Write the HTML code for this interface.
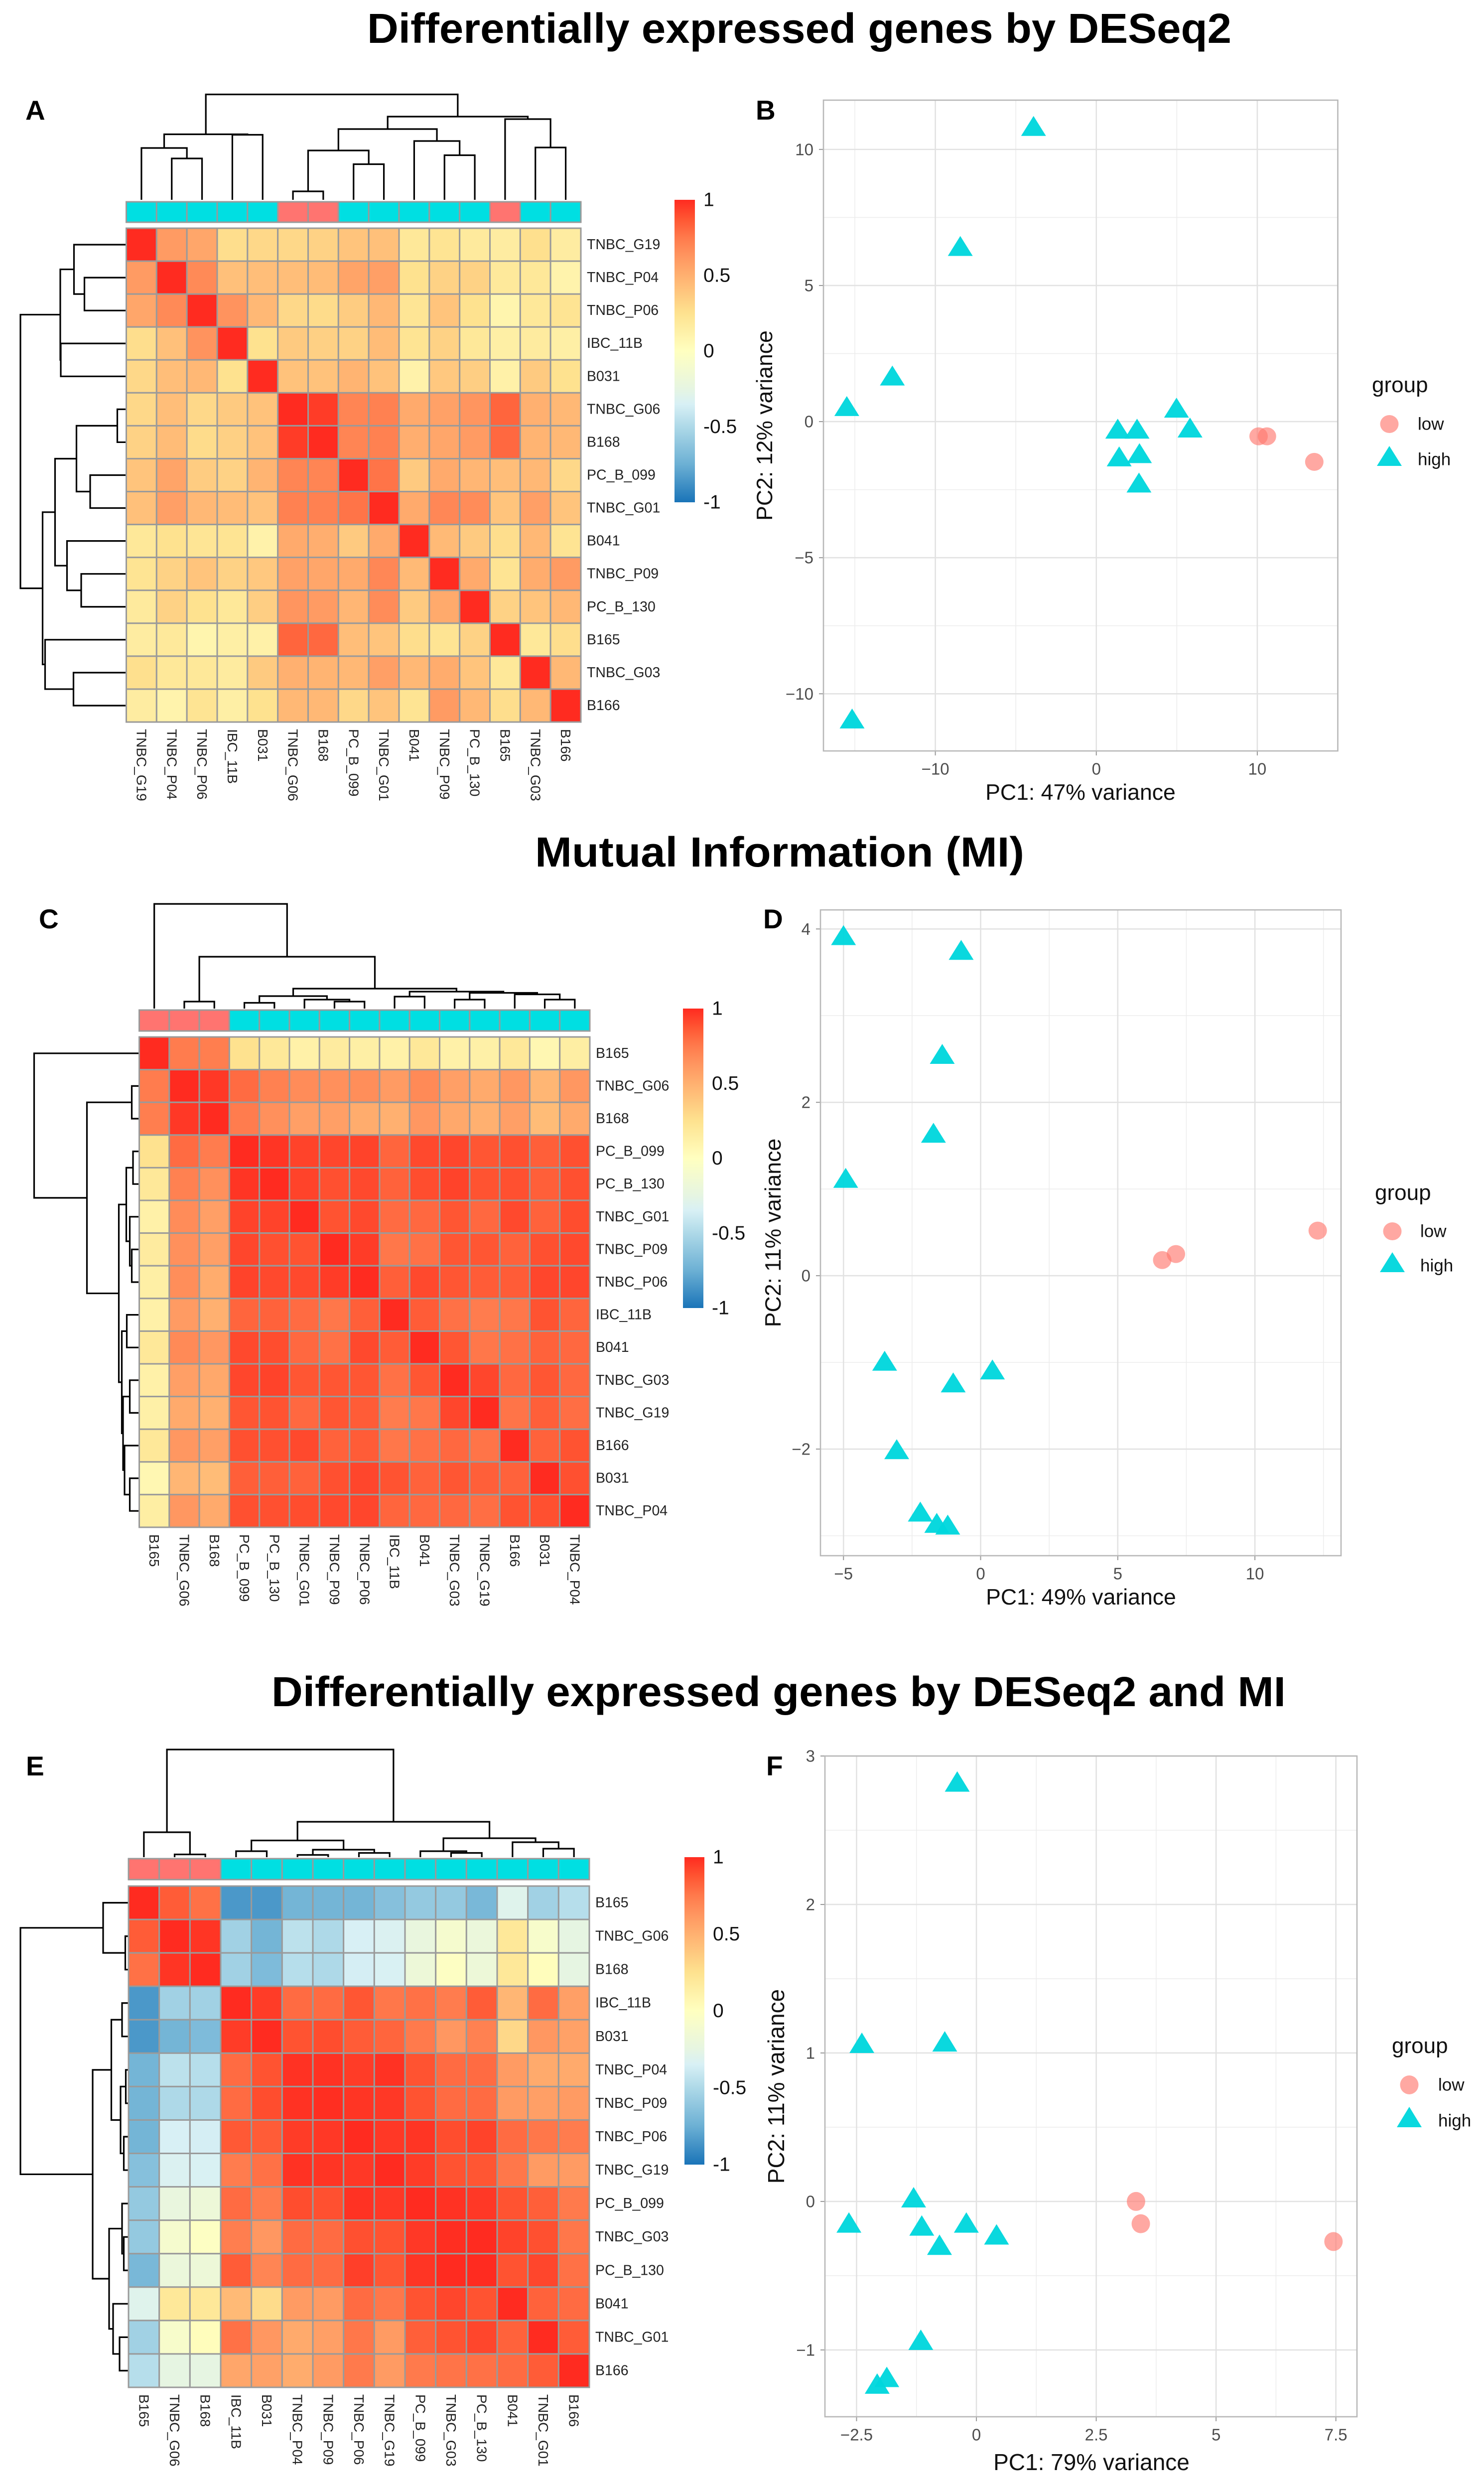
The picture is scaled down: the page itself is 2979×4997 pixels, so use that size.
<!DOCTYPE html>
<html>
<head>
<meta charset="utf-8">
<title>Differentially expressed genes figure</title>
<style>
html,body{margin:0;padding:0;background:#fff;}
svg{display:block;font-family:"Liberation Sans",Arial,sans-serif;}
</style>
</head>
<body>
<svg id="figure" xmlns="http://www.w3.org/2000/svg" width="2979" height="4997" viewBox="0 0 2979 4997">
<rect x="0" y="0" width="2979" height="4997" fill="#fff"/>
<text x="737" y="86" font-size="84" font-weight="bold" textLength="1735" lengthAdjust="spacingAndGlyphs" fill="#000">Differentially expressed genes by DESeq2</text>
<text x="1074" y="1739" font-size="84" font-weight="bold" textLength="982" lengthAdjust="spacingAndGlyphs" fill="#000">Mutual Information (MI)</text>
<text x="545" y="3424" font-size="84" font-weight="bold" textLength="2036" lengthAdjust="spacingAndGlyphs" fill="#000">Differentially expressed genes by DESeq2 and MI</text>
<text x="51" y="240" font-size="55" font-weight="bold">A</text>
<text x="1517" y="240" font-size="55" font-weight="bold">B</text>
<text x="78" y="1863" font-size="55" font-weight="bold">C</text>
<text x="1532" y="1863" font-size="55" font-weight="bold">D</text>
<text x="52" y="3563" font-size="55" font-weight="bold">E</text>
<text x="1538" y="3563" font-size="55" font-weight="bold">F</text>
</svg>
<script>
/* ---------- colour scale ---------- */
const colorDomain = [-1,-0.75,-0.5,-0.35,-0.25,0,0.25,0.5,0.625,0.75,0.875,1];
const colorRange = ['#1a74b8','#6cb0d4','#aed9e8','#d8f0f5','#e6f5e2','#ffffc0','#fee28f','#ffb070','#ff9660','#ff7a4c','#ff5532','#ff2b20'];
const colorbarTicks = [1,0.5,0,-0.5,-1];

/* ---------- heatmap A ---------- */
const labelsA = ['TNBC_G19','TNBC_P04','TNBC_P06','IBC_11B','B031','TNBC_G06','B168','PC_B_099','TNBC_G01','B041','TNBC_P09','PC_B_130','B165','TNBC_G03','B166'];
const lowGroupA = ['TNBC_G06','B168','B165'];
const treeA = [[[0,[1,2,83],104],[3,4,130.5],131.5],[[[[[5,6,17],[7,8,71.5],99],[9,[10,11,89.5],118],142]],[12,[13,14,105],162],167],211.5];
const matrixA = [
[1,.6,.55,.27,.3,.3,.33,.4,.42,.2,.23,.18,.16,.26,.16],
[.6,1,.68,.42,.43,.43,.44,.56,.58,.25,.33,.33,.19,.2,.1],
[.55,.68,1,.64,.46,.3,.28,.36,.46,.22,.4,.25,.09,.2,.23],
[.27,.42,.64,1,.25,.37,.34,.33,.44,.23,.33,.2,.14,.17,.14],
[.3,.43,.46,.25,1,.41,.41,.48,.41,.11,.38,.35,.12,.37,.25],
[.3,.43,.3,.37,.41,1,.95,.7,.72,.53,.57,.63,.82,.5,.46],
[.33,.44,.28,.34,.41,.95,1,.7,.72,.51,.55,.6,.81,.48,.46],
[.4,.56,.36,.33,.48,.7,.7,1,.77,.37,.53,.47,.43,.46,.3],
[.42,.58,.46,.44,.41,.72,.72,.77,1,.53,.69,.67,.4,.58,.4],
[.2,.25,.22,.23,.11,.53,.51,.37,.53,1,.45,.37,.27,.46,.23],
[.23,.33,.4,.33,.38,.57,.55,.53,.69,.45,1,.53,.23,.52,.6],
[.18,.33,.25,.2,.35,.63,.6,.47,.67,.37,.53,1,.33,.4,.46],
[.16,.19,.09,.14,.12,.82,.81,.43,.4,.27,.23,.33,1,.2,.27],
[.26,.2,.2,.17,.37,.5,.48,.46,.58,.46,.52,.4,.2,1,.46],
[.16,.1,.23,.14,.25,.46,.46,.3,.4,.23,.6,.46,.27,.46,1]
];

/* ---------- heatmap C ---------- */
const labelsC = ['B165','TNBC_G06','B168','PC_B_099','PC_B_130','TNBC_G01','TNBC_P09','TNBC_P06','IBC_11B','B041','TNBC_G03','TNBC_G19','B166','B031','TNBC_P04'];
const lowGroupC = ['B165','TNBC_G06','B168'];
const treeC = [0,[[1,2,14],[[[3,4,11.5],[5,[6,7,14],18],25],[[8,9,24],[[10,11,18],[12,[13,14,18],28.5],31.5],34],40],104],210];
const matrixC = [
[1,.74,.73,.25,.2,.12,.17,.14,.12,.2,.12,.13,.2,.07,.15],
[.74,1,.96,.8,.72,.67,.65,.66,.6,.68,.58,.53,.62,.47,.62],
[.73,.96,1,.74,.65,.58,.58,.52,.5,.62,.54,.5,.58,.44,.53],
[.25,.8,.74,1,.97,.93,.92,.93,.82,.91,.92,.87,.89,.84,.89],
[.2,.72,.65,.97,1,.93,.89,.91,.83,.9,.93,.88,.89,.84,.89],
[.12,.67,.58,.93,.93,1,.88,.91,.8,.81,.87,.81,.91,.83,.9],
[.17,.65,.58,.92,.89,.88,1,.95,.76,.78,.87,.87,.83,.89,.91],
[.14,.66,.52,.93,.91,.91,.95,1,.84,.91,.87,.85,.85,.92,.92],
[.12,.6,.5,.82,.83,.8,.76,.84,1,.85,.78,.74,.76,.88,.82],
[.2,.68,.62,.91,.9,.81,.78,.91,.85,1,.87,.76,.78,.83,.81],
[.12,.58,.54,.92,.93,.87,.87,.87,.78,.87,1,.92,.81,.87,.81],
[.13,.53,.5,.87,.88,.81,.87,.85,.74,.76,.92,1,.77,.84,.79],
[.2,.62,.58,.89,.89,.91,.83,.85,.76,.78,.81,.77,1,.83,.88],
[.07,.47,.44,.84,.84,.83,.89,.92,.88,.83,.87,.84,.83,1,.89],
[.15,.62,.53,.89,.89,.9,.91,.92,.82,.81,.81,.79,.88,.89,1]
];

/* ---------- heatmap E ---------- */
const labelsE = ['B165','TNBC_G06','B168','IBC_11B','B031','TNBC_P04','TNBC_P09','TNBC_P06','TNBC_G19','PC_B_099','TNBC_G03','PC_B_130','B041','TNBC_G01','B166'];
const lowGroupE = ['B165','TNBC_G06','B168'];
const treeE = [[0,[1,2,5.5],50],[[[3,4,12],[[5,6,4.5],[7,8,8.5],15],33.5],[[9,[10,11,8.5],12],[12,[13,14,17],30],38],71],216];
const matrixE = [
[1,.85,.78,-.85,-.85,-.72,-.72,-.72,-.65,-.6,-.6,-.7,-.3,-.55,-.47],
[.85,1,.97,-.55,-.72,-.45,-.5,-.35,-.33,-.22,-.1,-.2,.2,-.08,-.25],
[.78,.97,1,-.55,-.68,-.47,-.5,-.36,-.34,-.18,-.02,-.18,.2,.02,-.25],
[-.85,-.55,-.55,1,.95,.8,.8,.87,.76,.78,.74,.85,.47,.8,.58],
[-.85,-.72,-.68,.95,1,.88,.9,.85,.82,.75,.62,.72,.3,.62,.57],
[-.72,-.45,-.47,.8,.88,.98,.98,.95,.98,.88,.8,.8,.6,.53,.53],
[-.72,-.5,-.5,.8,.9,.98,.99,.97,.96,.88,.8,.8,.6,.58,.6],
[-.72,-.35,-.36,.86,.85,.95,.96,1,.96,.97,.9,.93,.8,.76,.74],
[-.65,-.33,-.34,.74,.78,.98,.97,.96,1,.95,.88,.87,.76,.6,.6],
[-.6,-.22,-.18,.8,.74,.9,.89,.98,.96,1,.98,.96,.88,.84,.75],
[-.6,-.1,-.02,.73,.62,.8,.8,.89,.88,.96,.99,1,.93,.89,.76],
[-.7,-.2,-.18,.85,.7,.8,.8,.94,.87,.97,1,1,.88,.92,.78],
[-.3,.2,.2,.45,.28,.6,.6,.8,.76,.88,.92,.88,1,.83,.8],
[-.55,-.08,.02,.78,.62,.53,.58,.76,.6,.84,.88,.92,.83,1,.85],
[-.47,-.25,-.25,.55,.57,.52,.6,.75,.6,.75,.77,.78,.8,.85,1]
];

/* ---------- PCA B ---------- */
const highXB = [-3.9,-8.45,-12.67,-15.5,-15.17,1.33,2.53,4.98,5.82,1.42,2.68,2.65];
const highYB = [10.77,6.36,1.6,.48,-11.0,-.35,-.35,.42,-.31,-1.37,-1.25,-2.33];
const lowXB = [10.08,10.6,13.54];
const lowYB = [-.54,-.54,-1.48];
const xTicksB = [-10,0,10];
const yTicksB = [-10,-5,0,5,10];
const xMinorB = [-15,-5,5];
const yMinorB = [-7.5,-2.5,2.5,7.5];

/* ---------- PCA D ---------- */
const highXD = [-5.0,-.71,-1.4,-1.72,-4.92,-3.5,-1.0,.43,-3.06,-2.2,-1.6,-1.2];
const highYD = [3.9,3.73,2.53,1.62,1.1,-1.01,-1.26,-1.11,-2.03,-2.75,-2.88,-2.9];
const lowXD = [6.62,7.12,12.29];
const lowYD = [.18,.25,.52];
const xTicksD = [-5,0,5,10];
const yTicksD = [-2,0,2,4];
const xMinorD = [-2.5,2.5,7.5,12.5];
const yMinorD = [-3,-1,1,3];

/* ---------- PCA F ---------- */
const highXF = [-.4,-2.39,-.66,-1.31,-2.66,-1.14,-.21,.42,-.77,-1.16,-1.87,-2.07];
const highYF = [2.81,1.05,1.06,.01,-.16,-.18,-.16,-.24,-.31,-.95,-1.2,-1.245];
const lowXF = [3.33,3.43,7.45];
const lowYF = [0,-.15,-.27];
const xTicksF = [-2.5,0,2.5,5,7.5];
const yTicksF = [-1,0,1,2,3];
const xMinorF = [-1.25,1.25,3.75,6.25];
const yMinorF = [-.5,.5,1.5,2.5];

const NS = 'http://www.w3.org/2000/svg';
const root = document.getElementById('figure');

function mk(tag, parent, attrs, txt){
  const e = document.createElementNS(NS, tag);
  for (const k in attrs) e.setAttribute(k, attrs[k]);
  if (txt !== undefined) e.textContent = txt;
  parent.appendChild(e);
  return e;
}
function hex(c){return [parseInt(c.slice(1,3),16),parseInt(c.slice(3,5),16),parseInt(c.slice(5,7),16)];}
function colorOf(v){
  let i = 0;
  while (i < colorDomain.length-2 && v > colorDomain[i+1]) i++;
  const t = Math.max(0,Math.min(1,(v-colorDomain[i])/(colorDomain[i+1]-colorDomain[i])));
  const a = hex(colorRange[i]), b = hex(colorRange[i+1]);
  return 'rgb('+[0,1,2].map(k=>Math.round(a[k]+(b[k]-a[k])*t)).join(',')+')';
}
function fmt(v){return String(v).replace('-','\u2212');}

/* Walks a merge tree; each node is [left,right,height], a leaf is its index. */
function treePath(node, posOf, hOf, horizontal){
  let d = '';
  function walk(n){
    if (typeof n === 'number') return {p:posOf(n), h:0};
    if (n.length === 1) return walk(n[0]);
    const l = walk(n[0]), r = walk(n[1]);
    const H = n[2];
    if (horizontal){
      d += 'M'+hOf(l.h)+' '+l.p+'H'+hOf(H)+'V'+r.p+'H'+hOf(r.h);
    } else {
      d += 'M'+l.p+' '+hOf(l.h)+'V'+hOf(H)+'H'+r.p+'V'+hOf(r.h);
    }
    return {p:(l.p+r.p)/2, h:H};
  }
  walk(node);
  return d;
}

function drawHeatmap(id, g, labels, lowGroup, tree, matrix){
  const group = mk('g', root, {});
  
  
  const n = labels.length;
  const cw = (g.x1-g.x0)/n, ch = (g.y1-g.y0)/n;

  const colDen = mk('path', group, {d:treePath(tree, i=>g.x0+(i+.5)*cw, h=>g.denY-h*g.kY, false), fill:'none', stroke:'#000', 'stroke-width':3.2});
  
  
  const rowDen = mk('path', group, {d:treePath(tree, i=>g.y0+(i+.5)*ch, h=>g.x0-1-h*g.kX, true), fill:'none', stroke:'#000', 'stroke-width':3.2});
  
  

  labels.forEach((lab,c)=>{
    const a = mk('rect', group, {x:g.x0+c*cw, y:g.a0, width:cw, height:g.a1-g.a0, fill: lowGroup.includes(lab)?'#ff7470':'#00dfe2', stroke:'#9a9a9a','stroke-width':3});
    
    
  });

  matrix.forEach((row,r)=>row.forEach((v,c)=>{
    const cell = mk('rect', group, {x:g.x0+c*cw, y:g.y0+r*ch, width:cw, height:ch, fill:colorOf(v), stroke:'#9a9a9a','stroke-width':3});
    
    
  }));

  labels.forEach((lab,i)=>{
    const rl = mk('text', group, {x:g.x1+12, y:g.y0+(i+.5)*ch, 'font-size':28.5, 'dominant-baseline':'central', fill:'#222'}, lab);
    
    
    const cx = g.x0+(i+.5)*cw, cy = g.y1+14;
    const cl = mk('text', group, {x:cx, y:cy, 'font-size':28, 'dominant-baseline':'central', fill:'#222', transform:'rotate(90 '+cx+' '+cy+')'}, lab);
    
    
  });

  const defs = mk('defs', group, {});
  const grad = mk('linearGradient', defs, {id:'grad'+id, x1:0, y1:1, x2:0, y2:0});
  colorDomain.forEach((d,i)=>mk('stop', grad, {offset:((d+1)/2), 'stop-color':colorRange[i]}));
  const bar = mk('rect', group, {x:g.cbx0, y:g.cby0, width:g.cbx1-g.cbx0, height:g.cby1-g.cby0, fill:'url(#grad'+id+')'});
  
  
  colorbarTicks.forEach(t=>{
    const yy = g.cby0+(1-t)/2*(g.cby1-g.cby0);
    const tl = mk('text', group, {x:g.cbx1+17, y:yy, 'font-size':39, 'dominant-baseline':'central', fill:'#111'}, String(t));
    
    
  });
}

function drawPCA(id, g, d){
  const group = mk('g', root, {});
  
  
  const X = v=>g.x0+(v-g.xmin)/(g.xmax-g.xmin)*(g.x1-g.x0);
  const Y = v=>g.y1-(v-g.ymin)/(g.ymax-g.ymin)*(g.y1-g.y0);

  d.xMinor.forEach(v=>{
    const l = mk('line', group, {x1:X(v),x2:X(v),y1:g.y0,y2:g.y1,stroke:'#ededed','stroke-width':1.6});
    
    
  });
  d.yMinor.forEach(v=>{
    const l = mk('line', group, {x1:g.x0,x2:g.x1,y1:Y(v),y2:Y(v),stroke:'#ededed','stroke-width':1.6});
    
    
  });
  d.xTicks.forEach(v=>{
    const l = mk('line', group, {x1:X(v),x2:X(v),y1:g.y0,y2:g.y1,stroke:'#e2e2e2','stroke-width':2.6});
    
    
    const t = mk('line', group, {x1:X(v),x2:X(v),y1:g.y1,y2:g.y1+9,stroke:'#999','stroke-width':2});
    
    
    const s = mk('text', group, {x:X(v),y:g.y1+36,'font-size':33,'text-anchor':'middle','dominant-baseline':'central',fill:'#4d4d4d'}, fmt(v));
    
    
  });
  d.yTicks.forEach(v=>{
    const l = mk('line', group, {x1:g.x0,x2:g.x1,y1:Y(v),y2:Y(v),stroke:'#e2e2e2','stroke-width':2.6});
    
    
    const t = mk('line', group, {x1:g.x0-9,x2:g.x0,y1:Y(v),y2:Y(v),stroke:'#999','stroke-width':2});
    
    
    const s = mk('text', group, {x:g.x0-20,y:Y(v),'font-size':33,'text-anchor':'end','dominant-baseline':'central',fill:'#4d4d4d'}, fmt(v));
    
    
  });

  function circle(px,py){
    return mk('ellipse', group, {cx:px,cy:py,rx:18.5,ry:g.ry,fill:'#ff7a70','fill-opacity':.65});
  }
  function tri(px,py){
    return mk('polygon', group, {points:(px-25)+','+(py+g.tb)+' '+px+','+(py-g.tt)+' '+(px+25)+','+(py+g.tb),fill:'#00d6dd','fill-opacity':.96});
  }
  d.lowX.forEach((v,i)=>{
    const p = circle(X(v),Y(d.lowY[i]));
    
    
  });
  d.highX.forEach((v,i)=>{
    const p = tri(X(v),Y(d.highY[i]));
    
    
  });

  const border = mk('rect', group, {x:g.x0,y:g.y0,width:g.x1-g.x0,height:g.y1-g.y0,fill:'none',stroke:'#b8b8b8','stroke-width':2.6});
  
  

  const xt = mk('text', group, {x:g.xtX,y:g.xtY,'font-size':g.tf,'text-anchor':'middle',fill:'#111'}, d.xTitle);
  
  
  const yt = mk('text', group, {x:g.ytX,y:g.ytY,'font-size':g.tf,'text-anchor':'middle',fill:'#111',transform:'rotate(-90 '+g.ytX+' '+g.ytY+')'}, d.yTitle);
  
  

  const lt = mk('text', group, {x:g.lgX,y:g.lgY,'font-size':44,fill:'#111'}, 'group');
  
  
  const ls = circle(g.lsX,g.lowY);
  
  
  const hs = tri(g.lsX,g.highY);
  
  
  const ll = mk('text', group, {x:g.llX,y:g.lowY,'font-size':35,'dominant-baseline':'central',fill:'#111'}, 'low');
  
  
  const hl = mk('text', group, {x:g.llX,y:g.highY+2,'font-size':35,'dominant-baseline':'central',fill:'#111'}, 'high');
  
  
}

drawHeatmap('a', {x0:253.5,x1:1166,y0:458,y1:1449,a0:405,a1:446,denY:401,kY:1,kX:1,cbx0:1354,cbx1:1395,cby0:401,cby1:1008}, labelsA, lowGroupA, treeA, matrixA);
drawHeatmap('c', {x0:279.5,x1:1184,y0:2081,y1:3065,a0:2027,a1:2069,denY:2024,kY:1,kX:1,cbx0:1371,cbx1:1412,cby0:2024,cby1:2625}, labelsC, lowGroupC, treeC, matrixC);
drawHeatmap('e', {x0:258,x1:1183,y0:3785,y1:4791,a0:3730,a1:3772,denY:3727,kY:1,kX:1,cbx0:1374,cbx1:1414,cby0:3727,cby1:4344}, labelsE, lowGroupE, treeE, matrixE);

drawPCA('b', {x0:1653,x1:2685.5,y0:201,y1:1507,xmin:-16.95,xmax:15.0,ymin:-12.1,ymax:11.81,ry:18,tt:25,tb:15,xtX:2169,xtY:1605,ytX:1550,ytY:854,tf:44.6,lgX:2754,lgY:787,lsX:2789,llX:2846,lowY:851,highY:920},
 {highX:highXB,highY:highYB,lowX:lowXB,lowY:lowYB,xTicks:xTicksB,yTicks:yTicksB,xMinor:xMinorB,yMinor:yMinorB,xTitle:'PC1: 47% variance',yTitle:'PC2: 12% variance'});
drawPCA('d', {x0:1647,x1:2692,y0:1826,y1:3122,xmin:-5.84,xmax:13.14,ymin:-3.23,ymax:4.22,ry:18,tt:25,tb:15,xtX:2170,xtY:3220,ytX:1567,ytY:2474,tf:44.6,lgX:2760,lgY:2408,lsX:2795,llX:2851,lowY:2471,highY:2538},
 {highX:highXD,highY:highYD,lowX:lowXD,lowY:lowYD,xTicks:xTicksD,yTicks:yTicksD,xMinor:xMinorD,yMinor:yMinorD,xTitle:'PC1: 49% variance',yTitle:'PC2: 11% variance'});
drawPCA('f', {x0:1656,x1:2724,y0:3524,y1:4850,xmin:-3.16,xmax:7.94,ymin:-1.45,ymax:3.0,ry:19,tt:26,tb:15,xtX:2191,xtY:4957,ytX:1574,ytY:4187,tf:46,lgX:2794,lgY:4120,lsX:2829,llX:2887,lowY:4184,highY:4254},
 {highX:highXF,highY:highYF,lowX:lowXF,lowY:lowYF,xTicks:xTicksF,yTicks:yTicksF,xMinor:xMinorF,yMinor:yMinorF,xTitle:'PC1: 79% variance',yTitle:'PC2: 11% variance'});
</script>
</body>
</html>
